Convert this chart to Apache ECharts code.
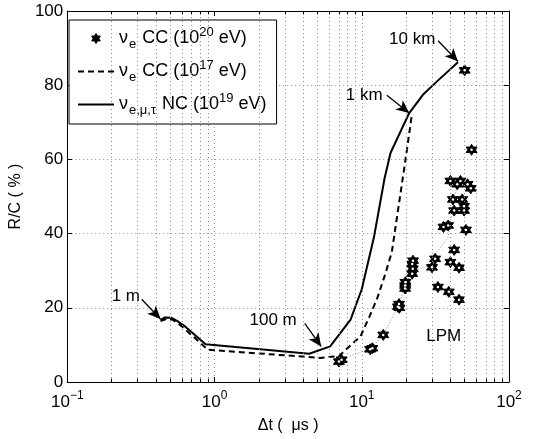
<!DOCTYPE html>
<html>
<head>
<meta charset="utf-8">
<script src="https://cdn.jsdelivr.net/npm/echarts@6/dist/echarts.min.js"></script>
<style>
  html, body { margin: 0; padding: 0; background: #fff; }
  #chart { width: 557px; height: 439px; }
</style>
</head>
<body>
<div id="chart"></div>
<script>
// nu_e CC (10^20 eV) : scattered showers
const ccHighPoints = [
  [7.0, 5.5], [7.3, 6.0], [11.4, 8.8], [11.8, 9.1], [14.0, 12.7],
  [17.6, 20.3], [17.9, 21.0], [18.0, 20.0],
  [19.7, 25.2], [19.7, 26.0], [19.8, 26.9],
  [22.0, 29.2], [22.2, 30.5], [22.0, 31.8], [22.3, 32.7],
  [30.0, 30.9], [31.5, 33.2], [32.9, 25.6],
  [35.9, 41.8], [38.6, 42.2],
  [39.0, 24.3], [40.0, 32.3], [42.4, 35.6], [45.8, 30.8], [45.8, 22.2],
  [51.0, 41.0],
  [41.6, 49.2], [48.1, 49.2], [42.4, 46.2], [49.5, 46.2], [49.5, 47.4],
  [40.0, 54.2], [44.5, 53.3], [46.8, 54.2], [52.3, 53.3], [55.0, 52.2],
  [55.7, 62.6],
  [50.0, 84.0]
];

// nu_e CC (10^17 eV)
const ccLowCurve = [
  [0.43, 16.4], [0.47, 17.0], [0.52, 16.8], [0.6, 15.0], [0.9, 8.7],
  [5.2, 6.5], [7.0, 7.0], [9.8, 12.3], [11.3, 17.7], [12.8, 22.8],
  [14.5, 29.3], [16.0, 35.0], [19.0, 55.0], [20.0, 61.0], [21.9, 72.1]
];

// nu_e,mu,tau NC (10^19 eV)
const ncCurve = [
  [0.43, 16.7], [0.46, 17.4], [0.51, 17.3], [0.56, 16.4], [0.62, 15.2],
  [0.87, 10.2], [4.4, 7.6], [6.1, 9.6], [8.4, 16.8], [10.0, 25.0],
  [12.1, 39.0], [14.3, 55.0], [15.7, 61.8], [21.0, 72.5], [26.0, 77.4],
  [33.0, 81.3], [45.0, 86.2]
];

// thin dotted LPM trend through the stars
const lpmCurve = [
  [7.3, 6.0], [9.0, 7.5], [11.5, 9.0], [14.0, 12.7], [17.7, 20.5],
  [19.7, 26.0], [22.0, 30.0], [27.5, 31.0], [31.8, 34.5], [38.6, 39.0],
  [40.5, 44.3], [42.5, 49.6], [45.0, 54.0]
];

const legendLabels = {
  ccHigh: '{t|ν}{sub|e}{t| CC (10}{sup|20}{t| eV)}',
  ccLow: '{t|ν}{sub|e}{t| CC (10}{sup|17}{t| eV)}',
  nc: '{t|ν}{sub|e,μ,τ}{t| NC (10}{sup|19}{t| eV)}'
};

const xDecadeExponents = { '0.1': '−1', '1': '0', '10': '1', '100': '2' };
const xMinorValues = [0.2, 0.3, 0.4, 0.5, 0.6, 0.7, 0.8, 0.9,
  2, 3, 4, 5, 6, 7, 8, 9, 20, 30, 40, 50, 60, 70, 80, 90];

const noteTexts = ['1 m', '100 m', '1 km', '10 km', 'LPM'];
const notePositions = [[0.25, 23.0], [2.5, 16.7], [10.4, 77.3], [22.0, 92.4], [36.0, 12.3]];
const arrowStarts = [[0.32, 22.3], [4.1, 15.8], [14.8, 77.3], [33.0, 92.0]];
const arrowEnds = [[0.43, 17.0], [5.3, 9.6], [21.0, 72.5], [45.0, 86.4]];

function hexagramPath() {
  let d = '';
  for (let k = 0; k < 12; k++) {
    const r = k % 2 === 0 ? 1 : 0.577;
    const a = Math.PI / 2 + k * Math.PI / 6;
    const x = (r * Math.cos(a)).toFixed(3);
    const y = (-r * Math.sin(a)).toFixed(3);
    d += (k === 0 ? 'M' : 'L') + x + ' ' + y + ' ';
  }
  return 'path://' + d + 'Z';
}
const starSymbol = hexagramPath();

const font = 'Liberation Sans, Arial, sans-serif';
const gridStyle = { color: '#8c8c8c', type: [1, 3], width: 1 };
const noIcon = { color: 'rgba(0,0,0,0)', borderColor: 'rgba(0,0,0,0)', borderWidth: 0 };

let myChart = echarts.init(document.getElementById('chart'));

let option = {
  animation: false,
  backgroundColor: '#fff',
  textStyle: { fontFamily: font, color: '#000' },
  grid: { left: 61, right: 48, top: 11, bottom: 55 },
  legend: {
    data: [
      { name: 'ccHigh', icon: starSymbol, itemStyle: { color: '#000', borderColor: '#000', borderWidth: 1 } },
      { name: 'ccLow', itemStyle: noIcon },
      { name: 'nc', itemStyle: noIcon }
    ],
    orient: 'vertical',
    left: 69,
    top: 20,
    padding: [6, 10, 7, 8],
    itemGap: 8,
    itemWidth: 36,
    itemHeight: 10,
    backgroundColor: '#fff',
    borderColor: '#000',
    borderWidth: 1,
    borderRadius: 0,
    selectedMode: false,
    formatter: function(name) {
      return legendLabels[name];
    },
    textStyle: {
      fontFamily: font,
      color: '#000',
      rich: {
        t: { fontSize: 18, lineHeight: 25, verticalAlign: 'middle', fontFamily: font },
        sub: { fontSize: 13, lineHeight: 11, verticalAlign: 'bottom', fontFamily: font, padding: [0, 1, 0, 1] },
        sup: { fontSize: 13, lineHeight: 12, verticalAlign: 'top', fontFamily: font }
      }
    }
  },
  xAxis: [
    {
      type: 'log',
      logBase: 10,
      min: 0.1,
      max: 100,
      position: 'bottom',
      name: 'Δt (  μs )',
      nameLocation: 'middle',
      nameGap: 36,
      nameTextStyle: { fontSize: 16, fontFamily: font, color: '#000' },
      axisLine: { show: true, onZero: false, lineStyle: { color: '#000', width: 1 } },
      axisTick: { show: true, inside: true, length: 5, lineStyle: { color: '#000' } },
      axisLabel: {
        margin: 8,
        color: '#000',
        formatter: function(v) {
          const key = String(Math.round(v * 10) / 10);
          return '{b|10}{sup|' + xDecadeExponents[key] + '}';
        },
        rich: {
          b: { fontSize: 17, lineHeight: 24, verticalAlign: 'middle', fontFamily: font, color: '#000' },
          sup: { fontSize: 12, lineHeight: 14, verticalAlign: 'top', fontFamily: font, color: '#000' }
        }
      },
      splitLine: { show: true, lineStyle: gridStyle }
    },
    {
      type: 'log',
      logBase: 10,
      min: 0.1,
      max: 100,
      position: 'top',
      axisLine: { show: true, onZero: false, lineStyle: { color: '#000', width: 1 } },
      axisTick: { show: true, inside: true, length: 5, lineStyle: { color: '#000' } },
      axisLabel: { show: false },
      splitLine: { show: false }
    }
  ],
  yAxis: [
    {
      type: 'value',
      min: 0,
      max: 100,
      interval: 20,
      position: 'left',
      name: 'R/C ( % )',
      nameLocation: 'middle',
      nameGap: 30,
      nameTextStyle: { fontSize: 16, fontFamily: font, color: '#000' },
      axisLine: { show: true, onZero: false, lineStyle: { color: '#000', width: 1 } },
      axisTick: { show: true, inside: true, length: 5, lineStyle: { color: '#000' } },
      axisLabel: { fontSize: 17, color: '#000', margin: 4, fontFamily: font },
      splitLine: { show: true, lineStyle: gridStyle }
    },
    {
      type: 'value',
      min: 0,
      max: 100,
      interval: 20,
      position: 'right',
      axisLine: { show: true, onZero: false, lineStyle: { color: '#000', width: 1 } },
      axisTick: { show: true, inside: true, length: 5, lineStyle: { color: '#000' } },
      axisLabel: { show: false },
      splitLine: { show: false }
    }
  ],
  series: [
    {
      name: 'guides',
      type: 'line',
      data: [],
      silent: true,
      markLine: {
        silent: true,
        symbol: ['none', 'none'],
        label: { show: false },
        animation: false,
        data: xMinorValues.map(v => ({ xAxis: v, lineStyle: gridStyle }))
          .concat(xMinorValues.map(v => [
            { coord: [v, 0], lineStyle: { color: '#000', type: 'solid', width: 1 } },
            { coord: [v, 0.9] }
          ]))
          .concat(xMinorValues.map(v => [
            { coord: [v, 99.1], lineStyle: { color: '#000', type: 'solid', width: 1 } },
            { coord: [v, 100] }
          ]))
      }
    },
    {
      name: 'lpm',
      type: 'line',
      data: lpmCurve,
      symbol: 'none',
      silent: true,
      lineStyle: { color: '#8a8a8a', width: 1, type: [1, 2] },
      z: 2
    },
    {
      name: 'ccLow',
      type: 'line',
      data: ccLowCurve,
      symbol: 'none',
      lineStyle: { color: '#000', width: 2, type: [6, 4] },
      itemStyle: { color: '#000' },
      z: 3
    },
    {
      name: 'nc',
      type: 'line',
      data: ncCurve,
      symbol: 'none',
      lineStyle: { color: '#000', width: 2, type: 'solid' },
      itemStyle: { color: '#000' },
      z: 3
    },
    {
      name: 'ccHigh',
      type: 'scatter',
      data: ccHighPoints,
      symbol: starSymbol,
      symbolSize: 11,
      itemStyle: { color: '#000', borderColor: '#000', borderWidth: 1, opacity: 1 },
      z: 4
    },
    {
      // small white centre of each hexagram marker
      name: 'ccHighCore',
      type: 'scatter',
      data: ccHighPoints,
      symbol: 'circle',
      symbolSize: 2.5,
      silent: true,
      itemStyle: { color: '#fff', opacity: 1 },
      z: 5
    },
    {
      name: 'notes',
      type: 'line',
      data: [],
      silent: true,
      markLine: {
        silent: true,
        animation: false,
        symbol: ['none', 'arrow'],
        symbolSize: [9, 13],
        label: { show: false },
        lineStyle: { color: '#000', width: 1.3, type: 'solid' },
        data: arrowStarts.map((s, i) => [{ coord: s }, { coord: arrowEnds[i] }])
      },
      markPoint: {
        silent: true,
        animation: false,
        symbol: 'circle',
        symbolSize: 0,
        label: {
          show: true,
          position: 'inside',
          color: '#000',
          fontSize: 17,
          fontFamily: font,
          formatter: p => p.name
        },
        data: noteTexts.map((t, i) => ({ name: t, coord: notePositions[i] }))
      },
      z: 6
    }
  ]
};

myChart.setOption(option);
</script>
</body>
</html>
